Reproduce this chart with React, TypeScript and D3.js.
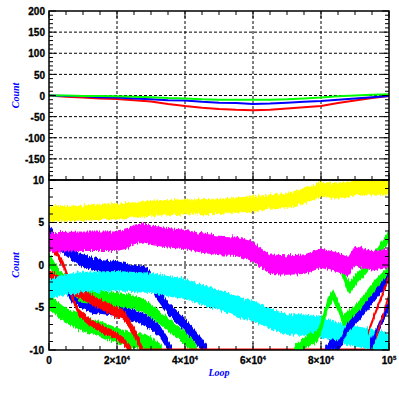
import React from 'react';
import * as d3 from 'd3';

// upper panel: slowly drifting counts
const topLoops = [0, 5000, 10000, 15000, 20000, 25000, 30000, 35000, 40000, 45000, 50000,
    55000, 60000, 65000, 70000, 75000, 80000, 85000, 90000, 95000, 100000];
const topRed = [0, -3, -5, -7, -8, -11, -14, -20, -25, -29, -32, -34, -35, -34, -31, -28, -25, -18, -12, -6, -1];
const topBlue = [0, -1, -2, -4, -5, -7, -9, -11, -12, -15, -17, -18, -20, -19, -17, -15, -13, -10, -7, -4, -1];
const topGreen = [0, 0, -1, -1, -2, -3, -4, -6, -7, -9, -10, -10, -10, -10, -9, -7, -5, -2, 0, 2, 3];

// lower panel: noisy bands (centre value + half spread of the noise)
const yellowLoop = [0, 10000, 20000, 30000, 40000, 50000, 60000, 70000, 75000, 80000, 85000, 90000, 95000, 100000];
const yellowVal = [6.0, 6.1, 6.3, 6.7, 6.8, 6.9, 7.2, 7.6, 8.1, 8.9, 8.7, 9.1, 9.2, 9.1];
const yellowSpread = 0.9;

const magentaLoop = [0, 10000, 20000, 23000, 25000, 28000, 30000, 35000, 40000, 45000, 50000, 55000,
    60000, 62000, 65000, 70000, 75000, 80000, 85000, 88000, 90000, 95000, 100000];
const magentaVal = [2.7, 2.8, 2.8, 3.1, 3.6, 3.8, 3.5, 3.2, 3.0, 2.6, 2.3, 2.2,
    1.6, 0.9, 0.1, 0.0, 0.1, 0.8, 0.3, -0.2, 1.1, 0.5, 0.8];
const magentaSpread = 1.15;

const cyanLoop = [0, 5000, 10000, 20000, 30000, 35000, 40000, 45000, 50000, 57000, 60000,
    65000, 70000, 75000, 80000, 85000, 90000, 95000, 100000];
const cyanVal = [-2.8, -2.3, -2.0, -1.9, -2.1, -2.5, -2.8, -3.5, -4.1, -5.1, -5.4,
    -6.3, -7.0, -7.0, -7.3, -8.0, -8.4, -8.7, -9.3];
const cyanSpread = 1.2;

const blueALoop = [0, 1800, 4700, 9100, 15000, 20000, 23800, 28200, 29700, 31200, 35000, 40000, 45000, 46500];
const blueAVal = [4.0, 3.0, 1.9, 0.6, 0.0, -0.3, -0.6, -0.9, -1.3, -3.0, -5.1, -7.0, -9.4, -10.3];
const blueBLoop = [5000, 6800, 12100, 20000, 26800, 29700, 32600, 35000, 36200];
const blueBVal = [-2.6, -3.8, -4.9, -5.3, -6.2, -6.8, -7.8, -9.4, -10.3];
const greenALoop = [0, 3200, 6800, 9100, 15000, 20000, 23800, 26800, 29700, 35000, 40000, 42100, 43500];
const greenAVal = [0.6, -1.5, -2.4, -3.6, -3.9, -4.1, -4.3, -4.6, -5.3, -7.0, -8.6, -9.5, -10.3];
const greenBLoop = [0, 4700, 10600, 15000, 19400, 23800, 28200, 31200, 33200];
const greenBVal = [-4.4, -5.9, -7.0, -7.5, -8.2, -8.8, -9.0, -9.7, -10.3];
const redALoop = [0, 3800, 5600, 6800, 8500, 12100, 15000, 19400, 22100, 24400];
const redAVal = [2.6, 0.5, -1.5, -3.8, -5.5, -6.8, -7.4, -8.2, -9.0, -10.3];
const redBLoop = [0, 2600, 8500, 12100, 15000, 17900, 21800, 23800, 25900, 27600];
const redBVal = [-1.2, -1.8, -3.2, -4.0, -4.6, -5.2, -5.8, -7.0, -8.6, -10.3];
const redFloorLoop = [27600, 100000];
const redFloorVal = [-10, -10];

const greenR1Loop = [72100, 74400, 76800, 79100, 80600, 82100, 83500, 85000, 86500, 88500, 91500, 95300, 100000];
const greenR1Val = [-10.3, -9.3, -8.8, -8.3, -6.5, -4.5, -3.5, -4.8, -6.5, -6.0, -4.8, -2.7, -0.8];
const greenR2Loop = [86000, 87600, 88500, 90600, 92400, 94500, 96800, 98500, 100000];
const greenR2Val = [-0.5, -2.2, -2.7, -1.5, -0.8, 0.3, 1.5, 2.6, 3.4];
const blueR1Loop = [81200, 83200, 85000, 86200, 87600, 91500, 95900, 100000];
const blueR1Val = [-10.3, -9.2, -9.6, -8.8, -7.5, -5.8, -3.6, -1.5];
const blueR2Loop = [94400, 97400, 100000];
const blueR2Val = [-9.6, -7.0, -4.6];
const redR1Loop = [93800, 96800, 100000];
const redR1Val = [-8.0, -4.8, -1.4];
const redR2Loop = [96200, 98200, 100000];
const redR2Val = [-8.5, -6.0, -3.4];

const xTickLabels = ['0', '2×10', '4×10', '6×10', '8×10', '10'];
const xTickExp = ['', '4', '4', '4', '4', '5'];

const L = 49, R = 389, T = 11, MID = 180, B = 350;
const labelFont = '"Liberation Sans", Arial, sans-serif';
const titleFont = '"Liberation Serif", "Times New Roman", serif';

function App() {
    const x = d3.scaleLinear().domain([0, 100000]).range([L, R]);
    const yTop = d3.scaleLinear().domain([-200, 200]).range([MID, T]);
    const yBot = d3.scaleLinear().domain([-10, 10]).range([B, MID]);

    const topLine = d3.line<number>()
        .x((_, i) => x(topLoops[i]))
        .y((d) => yTop(d));

    const band = (loops: number[], vals: number[], spread: number) =>
        d3.area<number>()
            .x((_, i) => x(loops[i]))
            .y0((d) => yBot(d - spread))
            .y1((d) => yBot(d + spread))(vals) || '';

    const floorLine = d3.line<number>()
        .x((_, i) => x(redFloorLoop[i]))
        .y((d) => yBot(d));

    const bands = [
        { c: '#0000ff', d: band(blueALoop, blueAVal, 0.75) },
        { c: '#0000ff', d: band(blueBLoop, blueBVal, 0.7) },
        { c: '#00ff00', d: band(greenALoop, greenAVal, 0.8) },
        { c: '#00ff00', d: band(greenBLoop, greenBVal, 0.9) },
        { c: '#ff0000', d: band(redALoop, redAVal, 0.45) },
        { c: '#ff0000', d: band(redBLoop, redBVal, 0.6) },
    ];
    const rightBands = [
        { c: '#00ff00', d: band(greenR1Loop, greenR1Val, 0.7) },
        { c: '#00ff00', d: band(greenR2Loop, greenR2Val, 0.7) },
        { c: '#0000ff', d: band(blueR1Loop, blueR1Val, 0.6) },
        { c: '#0000ff', d: band(blueR2Loop, blueR2Val, 0.6) },
        { c: '#ff0000', d: band(redR1Loop, redR1Val, 0.35) },
        { c: '#ff0000', d: band(redR2Loop, redR2Val, 0.35) },
    ];

    const xMinor = d3.range(0, 100001, 5000);
    const xGrid = [20000, 40000, 60000, 80000];
    const topMinor = d3.range(-200, 201, 10);
    const topGrid = d3.range(-150, 151, 50);
    const topLabels = d3.range(-150, 201, 50);
    const botMinor = d3.range(-10, 11, 1);
    const botGrid = [-5, 0, 5];
    const botLabels = d3.range(-10, 11, 5);
    const dash = '3,2';

    return (
        <svg width={399} height={399} style={{ position: 'absolute', left: 0, top: 0, background: '#fff' }}>
            <defs>
                <clipPath id="topClip"><rect x={L} y={T} width={R - L} height={MID - T} /></clipPath>
                <clipPath id="botClip"><rect x={L} y={MID} width={R - L} height={B - MID} /></clipPath>
                {/* jagged vertical edges for the noisy bands (no sideways shift) */}
                <filter id="jitter" filterUnits="userSpaceOnUse" x={0} y={0} width={399} height={399}
                    colorInterpolationFilters="sRGB">
                    <feTurbulence type="fractalNoise" baseFrequency="0.7 0.04" numOctaves={2} seed={7} result="n" />
                    <feColorMatrix in="n" type="matrix" values="1 0 0 0 0  0 1 0 0 0  0 0 0 0 0.5  0 0 0 0 1" result="m" />
                    <feDisplacementMap in="SourceGraphic" in2="m" scale={7} xChannelSelector="B" yChannelSelector="R" />
                </filter>
            </defs>

            {/* grids */}
            <g stroke="#000" strokeWidth={1} strokeDasharray={dash}>
                {xGrid.map((v) => <line key={'gx' + v} x1={x(v)} x2={x(v)} y1={T} y2={B} />)}
                {topGrid.map((v) => <line key={'gt' + v} x1={L} x2={R} y1={yTop(v)} y2={yTop(v)} />)}
                {botGrid.map((v) => <line key={'gb' + v} x1={L} x2={R} y1={yBot(v)} y2={yBot(v)} />)}
            </g>

            {/* upper panel lines */}
            <g clipPath="url(#topClip)" fill="none" strokeWidth={2}>
                <path d={topLine(topRed) || ''} stroke="#ff0000" />
                <path d={topLine(topBlue) || ''} stroke="#0000ff" />
                <path d={topLine(topGreen) || ''} stroke="#00ff00" />
            </g>

            {/* lower panel bands */}
            <g clipPath="url(#botClip)">
                {bands.map((b, i) => <path key={'b' + i} d={b.d} fill={b.c} filter="url(#jitter)" />)}
                <path d={floorLine(redFloorVal) || ''} stroke="#ff0000" strokeWidth={3} fill="none" />
                <path d={band(cyanLoop, cyanVal, cyanSpread)} fill="#00ffff" filter="url(#jitter)" />
                {rightBands.map((b, i) => <path key={'r' + i} d={b.d} fill={b.c} filter="url(#jitter)" />)}
                <path d={band(magentaLoop, magentaVal, magentaSpread)} fill="#ff00ff" filter="url(#jitter)" />
                <path d={band(yellowLoop, yellowVal, yellowSpread)} fill="#ffff00" filter="url(#jitter)" />
            </g>

            {/* frames */}
            <g fill="none" stroke="#000" strokeWidth={1.5}>
                <rect x={L} y={T} width={R - L} height={MID - T} />
                <rect x={L} y={MID} width={R - L} height={B - MID} />
            </g>

            {/* ticks */}
            <g stroke="#000" strokeWidth={1}>
                {xMinor.map((v) => {
                    const len = v % 20000 === 0 ? 7 : 4;
                    return <g key={'xt' + v}>
                        <line x1={x(v)} x2={x(v)} y1={T} y2={T + len} />
                        <line x1={x(v)} x2={x(v)} y1={MID} y2={MID - len} />
                        <line x1={x(v)} x2={x(v)} y1={B} y2={B - len} />
                    </g>;
                })}
                {topMinor.map((v) => {
                    const len = v % 50 === 0 ? 7 : 4;
                    return <g key={'yt' + v}>
                        <line x1={L} x2={L + len} y1={yTop(v)} y2={yTop(v)} />
                        <line x1={R} x2={R - len} y1={yTop(v)} y2={yTop(v)} />
                    </g>;
                })}
                {botMinor.map((v) => {
                    const len = v % 5 === 0 ? 7 : 4;
                    return <g key={'yb' + v}>
                        <line x1={L} x2={L + len} y1={yBot(v)} y2={yBot(v)} />
                        <line x1={R} x2={R - len} y1={yBot(v)} y2={yBot(v)} />
                    </g>;
                })}
            </g>

            {/* tick labels */}
            <g fontFamily={labelFont} fontWeight="bold" fontSize={10} fill="#000" stroke="#000" strokeWidth={0.3}>
                {topLabels.map((v) => (
                    <text key={'lt' + v} x={45} y={yTop(v) + 1.5} textAnchor="end" dominantBaseline="middle">{v}</text>
                ))}
                {botLabels.map((v) => (
                    <text key={'lb' + v} x={44} y={yBot(v) + 1} textAnchor="end" dominantBaseline="middle">{v}</text>
                ))}
                {xTickLabels.map((t, i) => (
                    <text key={'lx' + i} x={x(i * 20000)} y={364} textAnchor="middle">
                        {t}
                        {xTickExp[i] && <tspan fontSize={6} dy={-4}>{xTickExp[i]}</tspan>}
                    </text>
                ))}
            </g>

            {/* axis titles */}
            <g fontFamily={titleFont} fontWeight="bold" fontStyle="italic" fontSize={10} fill="#0000ff">
                <text x={(L + R) / 2} y={376} textAnchor="middle">Loop</text>
                <text transform={`translate(19, ${yTop(0)}) rotate(-90)`} textAnchor="middle">Count</text>
                <text transform={`translate(19, ${yBot(0)}) rotate(-90)`} textAnchor="middle">Count</text>
            </g>
        </svg>
    );
}

export default App;
